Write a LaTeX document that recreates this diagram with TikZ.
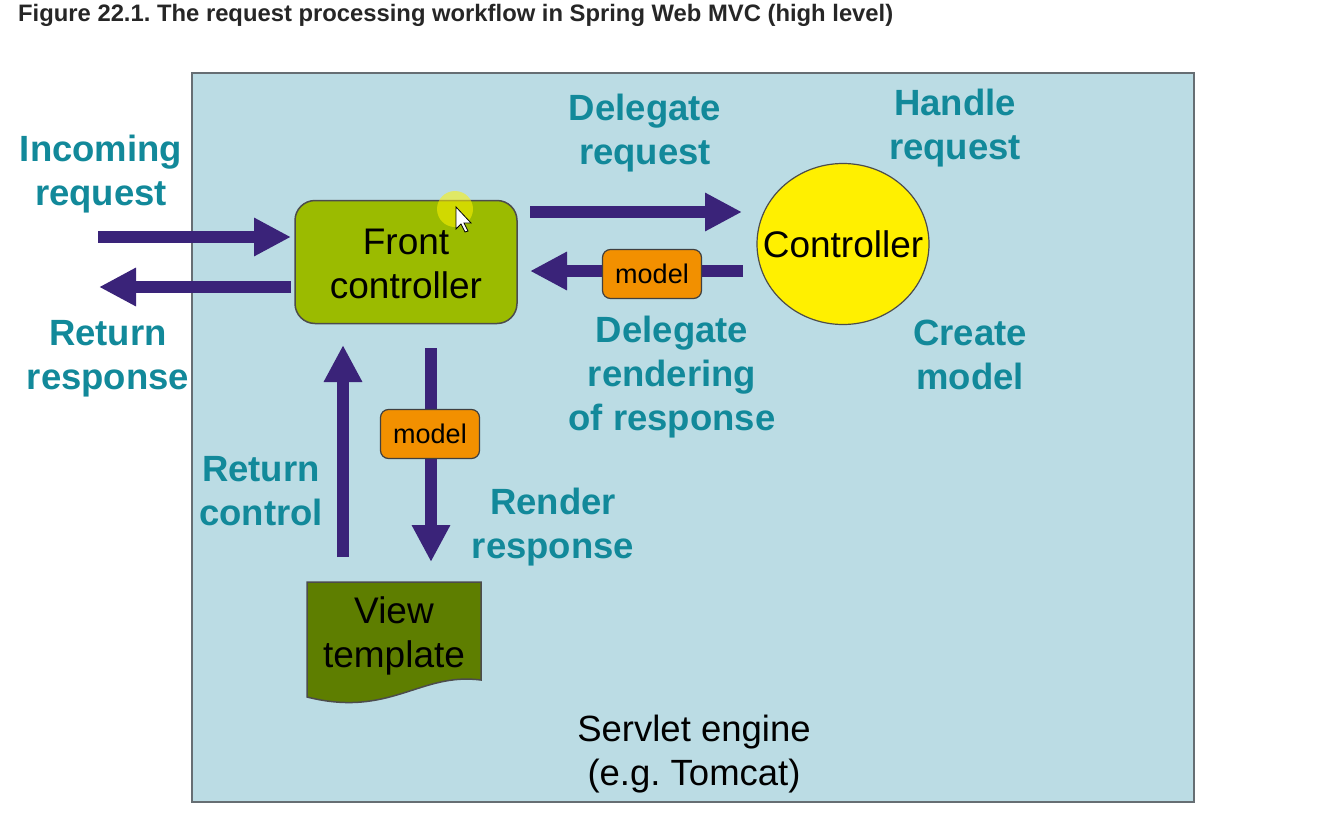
\documentclass[tikz,border=0pt]{standalone}
\usepackage{fontspec}
\setmainfont{Liberation Sans}
\usetikzlibrary{arrows.meta,shapes.geometric}
\frenchspacing
\definecolor{bgblue}{HTML}{BBDCE4}
\definecolor{frame}{HTML}{666E73}
\definecolor{purp}{HTML}{3A2379}
\definecolor{teal2}{HTML}{12899A}
\definecolor{fcgreen}{HTML}{9BBB00}
\definecolor{vtgreen}{HTML}{5E7E00}
\definecolor{orng}{HTML}{F29000}
\definecolor{yell}{HTML}{FFF000}
\tikzset{
  flow/.style={purp, line width=12.5pt, -{Triangle[length=37pt,width=36pt]}},
  lbl/.style={teal2, font=\fontsize{36.5}{44}\selectfont\bfseries, align=center},
  boxtxt/.style={font=\fontsize{37}{44}\selectfont, align=center, text=black},
  modelbox/.style={draw=black!75, line width=1.2pt, fill=orng, rounded corners=8pt,
    minimum width=99pt, minimum height=49pt, inner sep=0pt,
    font=\fontsize{27}{30}\selectfont, text=black},
}
\begin{document}
\begin{tikzpicture}[x=1pt,y=-1pt]
\useasboundingbox (0,0) rectangle (1334,814);
\fill[white] (0,0) rectangle (1334,814);
% title
\node[anchor=west, font=\fontsize{23.8}{28}\selectfont\bfseries, text=black!85, inner sep=0pt] (title) at (18,15) {Figure 22.1. The request processing workflow in Spring Web MVC (high level)};
% servlet engine frame
\draw[frame, line width=2.5pt, fill=bgblue] (192,73) rectangle (1194,802);
\node[boxtxt, font=\fontsize{36.5}{44}\selectfont] (engine) at (694,754) {Servlet engine\\(e.g. Tomcat)};
% front controller
\node[draw=black!70, line width=1.5pt, fill=fcgreen, rounded corners=20pt,
  minimum width=222pt, minimum height=123pt] (fc) at (406,262) {};
\node[boxtxt] (fctxt) at (406,264) {Front\\controller};
% controller
\node[draw=black!70, line width=1.2pt, fill=yell, ellipse, minimum width=172pt, minimum height=161pt, inner sep=0pt, boxtxt] (ctrl) at (843,244) {};
\node[boxtxt] (ctrltxt) at (ctrl.center) {Controller};
% view template
\draw[black!70, line width=1.5pt, fill=vtgreen] (307,582) -- (481,582) -- (481,680)
  .. controls (420,672) and (390,718) .. (307,697) -- cycle;
\node[boxtxt] (vt) at (394,636) {View\\template};
% coordinates
\coordinate (inS) at (98,237);
\coordinate (inE) at (291,237);
\coordinate (retS) at (291,287);
\coordinate (retE) at (99,287);
\coordinate (dS) at (530,212);
\coordinate (dE) at (742,212);
\coordinate (bS) at (743,271);
\coordinate (bE) at (530,271);
\coordinate (rS) at (431,348);
\coordinate (rE) at (431,562);
\coordinate (cS) at (343,557);
\coordinate (cE) at (343,345);
% arrows
\draw[flow] (inS) -- (inE);
\draw[flow] (retS) -- (retE);
\draw[flow] (dS) -- (dE);
\draw[flow] (bS) -- (bE);
\draw[flow] (rS) -- (rE);
\draw[flow] (cS) -- (cE);
% model boxes
\node[modelbox] (m1) at (652,274) {model};
\node[modelbox] (m2) at (430,434) {model};
% labels
\node[lbl] (l1) at (101,174) {Incoming\\request};
\node[lbl] (l2) at (108,359) {Return\\response};
\node[lbl] (l3) at (645,133) {Delegate\\request};
\node[lbl] (l4) at (955,128) {Handle\\request};
\node[lbl] (l5) at (672,377) {Delegate\\rendering\\of response};
\node[lbl] (l6) at (970,355) {Create\\model};
\node[lbl] (l7) at (261,491) {Return\\control};
\node[lbl] (l8) at (553,527) {Render\\response};
% cursor highlight
\fill[yellow, opacity=0.55] (455,209) circle (18);
\draw[black, line width=0.8pt, fill=white] (456,207) -- (456,229) -- (461,224) -- (465,232) -- (468,231) -- (464,223) -- (471,223) -- cycle;
\end{tikzpicture}
\end{document}
